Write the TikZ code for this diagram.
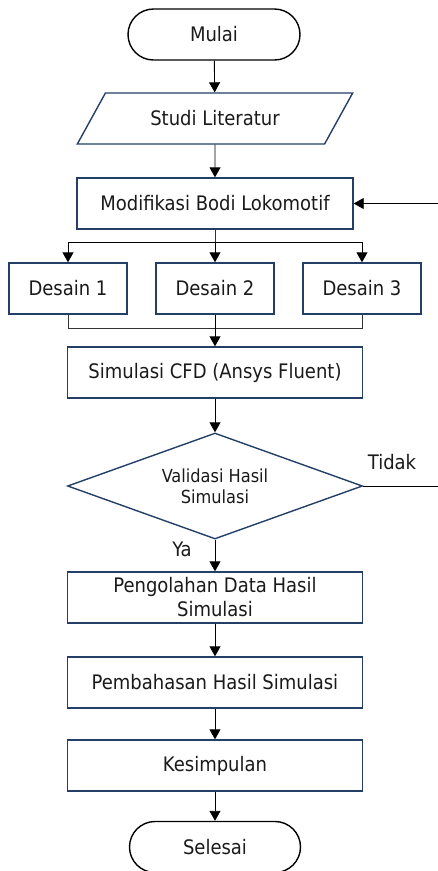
\documentclass[tikz,border=0pt]{standalone}
\usepackage{fontspec}
\setmainfont{DejaVu Sans Condensed}
\usetikzlibrary{shapes.geometric,arrows.meta}
\definecolor{navy}{HTML}{243F66}
\definecolor{txt}{HTML}{1A1A1A}
\tikzset{
  base/.style={font=\fontsize{20}{24}\selectfont, text=txt, inner sep=0pt, align=center},
  term/.style={base, draw=black, line width=1.4pt, rectangle, rounded corners=25.5pt, minimum width=172pt, minimum height=51pt},
  proc/.style={base, draw=navy, line width=1.4pt, rectangle, minimum height=51pt},
  iobox/.style={base, draw=navy, line width=1.4pt, trapezium, trapezium left angle=43, trapezium right angle=137, trapezium stretches=true, minimum width=276pt, minimum height=51pt},
  dec/.style={base, font=\fontsize{18}{21}\selectfont, draw=navy, line width=1.4pt, diamond, aspect=2.78, minimum width=295pt, minimum height=106pt},
  arr/.style={line width=0.9pt, draw=black, -{Triangle[length=10pt,width=11pt]}},
  ln/.style={line width=0.9pt, draw=black!80},
  lbl/.style={font=\fontsize{20}{24}\selectfont, text=txt, inner sep=0pt}
}
\begin{document}
\begin{tikzpicture}[x=1pt,y=-1pt]
\useasboundingbox (0,0) rectangle (437,871);
\node[term] (start) at (214,34.5) {Mulai};
\node[iobox] (lit) at (215,118.5) {Studi Literatur};
\node[proc, minimum width=276pt] (mod) at (215,203.5) {Modifikasi Bodi Lokomotif};
\node[proc, minimum width=118pt] (d1) at (68,288.5) {Desain 1};
\node[proc, minimum width=118pt] (d2) at (215,288.5) {Desain 2};
\node[proc, minimum width=118pt] (d3) at (362,288.5) {Desain 3};
\node[proc, minimum width=295pt] (sim) at (215,372.5) {Simulasi CFD (Ansys Fluent)};
\node[dec] (val) at (215,486) {Validasi Hasil\\Simulasi};
\node[proc, minimum width=295pt] (olah) at (215,597.5) {Pengolahan Data Hasil\\Simulasi};
\node[proc, minimum width=295pt] (bahas) at (215,682.5) {Pembahasan Hasil Simulasi};
\node[proc, minimum width=295pt] (kes) at (215,765.5) {Kesimpulan};
\node[term, minimum width=171pt] (end) at (215,847) {Selesai};
\node[lbl] (tidak) at (392,462) {Tidak};
\node[lbl] (ya) at (182,549) {Ya};
\coordinate (split) at (215,242);
\coordinate (merge) at (215,328);
\coordinate (fb) at (441,486);

\draw[arr] (start) -- (lit);
\draw[arr] (lit) -- (mod);
\draw[ln] (mod) -- (split);
\draw[arr] (split) -| (d1);
\draw[arr] (split) -| (d3);
\draw[arr] (split) -- (d2);
\draw[ln] (d1) |- (merge);
\draw[ln] (d3) |- (merge);
\draw[arr] (d2) -- (sim);
\draw[arr] (sim) -- (val);
\draw[arr] (val) -- (olah);
\draw[arr] (olah) -- (bahas);
\draw[arr] (bahas) -- (kes);
\draw[arr] (kes) -- (end);
\draw[arr] (val.east) -- (fb) |- (mod.east);
\end{tikzpicture}
\end{document}
